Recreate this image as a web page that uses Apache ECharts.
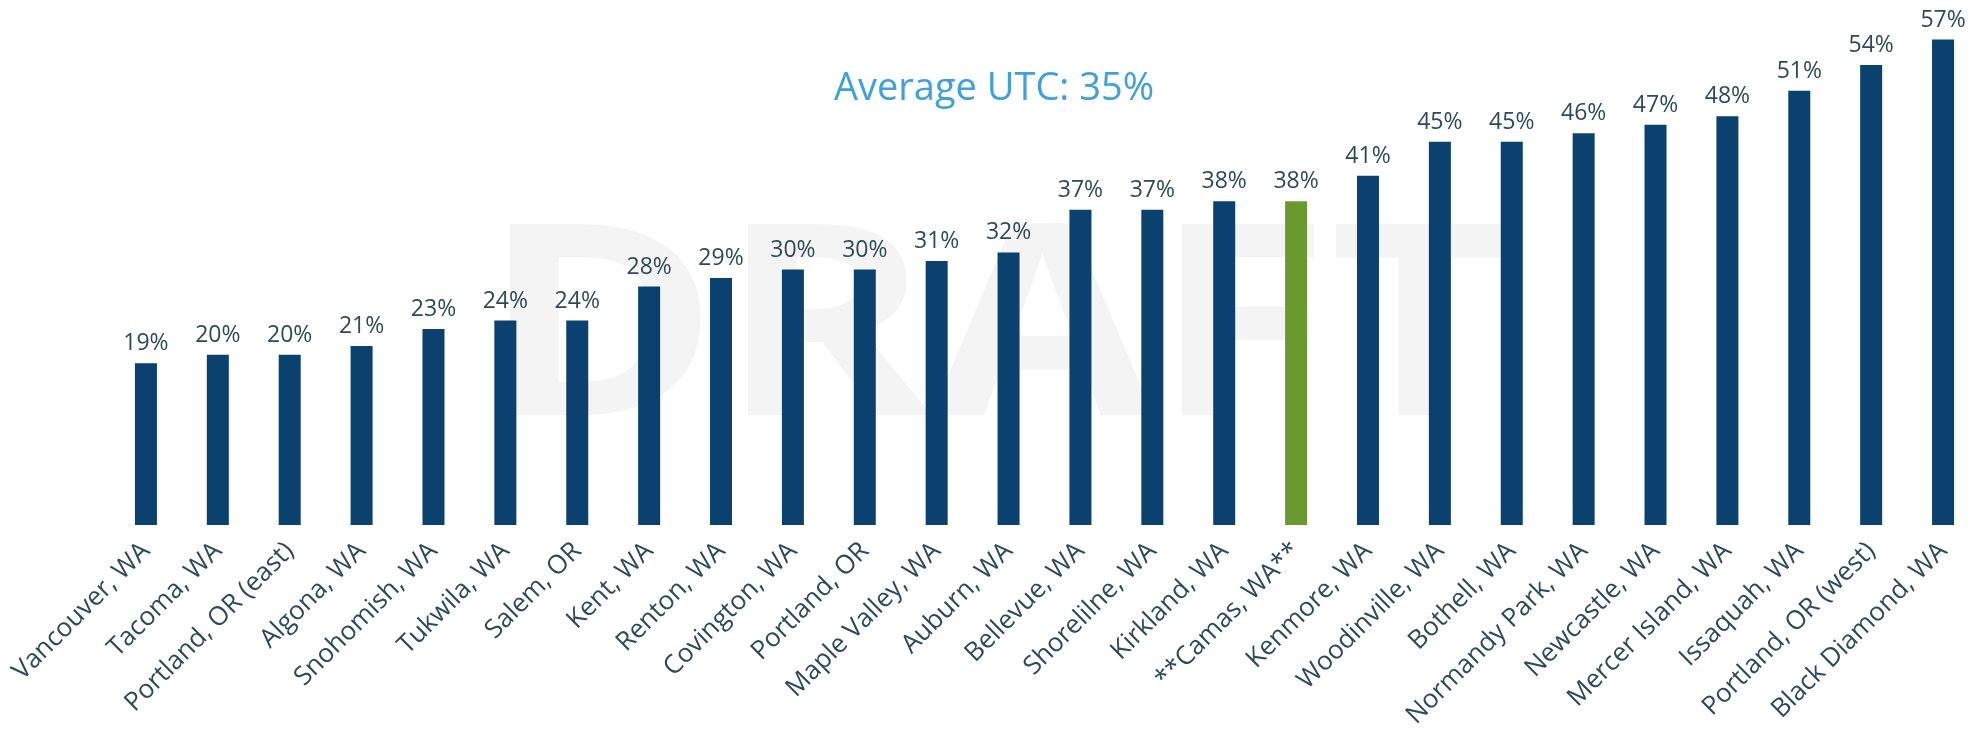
<!DOCTYPE html>
<html>
<head>
<meta charset="utf-8">
<script src="https://cdn.jsdelivr.net/npm/echarts@6/dist/echarts.min.js"></script>
<style>
html,body{margin:0;padding:0;background:#fff;}
#chart{width:1988px;height:731px;}
</style>
</head>
<body>
<div id="chart"></div>
<script>
const categories = [
  "Vancouver, WA", "Tacoma, WA", "Portland, OR (east)", "Algona, WA", "Snohomish, WA",
  "Tukwila, WA", "Salem, OR", "Kent, WA", "Renton, WA", "Covington, WA",
  "Portland, OR", "Maple Valley, WA", "Auburn, WA", "Bellevue, WA", "Shorelilne, WA",
  "Kirkland, WA", "**Camas, WA**", "Kenmore, WA", "Woodinville, WA", "Bothell, WA",
  "Normandy Park, WA", "Newcastle, WA", "Mercer Island, WA", "Issaquah, WA",
  "Portland, OR (west)", "Black Diamond, WA"
];
const utcValues = [19, 20, 20, 21, 23, 24, 24, 28, 29, 30, 30, 31, 32, 37, 37, 38, 38, 41, 45, 45, 46, 47, 48, 51, 54, 57];
const highlighted = "**Camas, WA**";
const titleText = "Average UTC: 35%";
const watermarkText = "DRAFT";

const barColor = "#0a416f";
const highlightColor = "#6a9a2f";
const textColor = "#2d4a5c";
const fontFamily = "'Open Sans', 'DejaVu Sans', sans-serif";

const chart = echarts.init(document.getElementById('chart'));
chart.setOption({
  backgroundColor: '#ffffff',
  animation: false,
  title: {
    text: titleText,
    left: 'center',
    top: 65,
    textStyle: {
      color: '#40a0dc',
      fontSize: 38,
      fontWeight: 'normal',
      fontFamily: fontFamily
    }
  },
  graphic: [{
    type: 'text',
    z: 0,
    left: 481,
    top: 205,
    scaleX: 1.2,
    style: {
      text: watermarkText,
      fill: '#f4f4f4',
      font: "bold 268px 'Open Sans', sans-serif"
    }
  }],
  grid: {
    left: 110,
    right: 9,
    top: 14,
    bottom: 204,
    containLabel: false
  },
  xAxis: {
    type: 'category',
    data: categories,
    axisLine: { show: false },
    axisTick: { show: false },
    axisLabel: {
      interval: 0,
      rotate: 45,
      margin: 22,
      color: textColor,
      fontSize: 26,
      fontFamily: fontFamily
    }
  },
  yAxis: {
    type: 'value',
    min: 0,
    max: 60,
    show: false,
    splitLine: { show: false }
  },
  series: [{
    type: 'bar',
    z: 2,
    barWidth: 22,
    data: utcValues.map((v, i) => ({
      value: v,
      itemStyle: { color: categories[i] === highlighted ? highlightColor : barColor }
    })),
    label: {
      show: true,
      position: 'top',
      distance: 8,
      formatter: '{c}%',
      color: textColor,
      fontSize: 23,
      fontFamily: fontFamily
    }
  }]
});
</script>
</body>
</html>
